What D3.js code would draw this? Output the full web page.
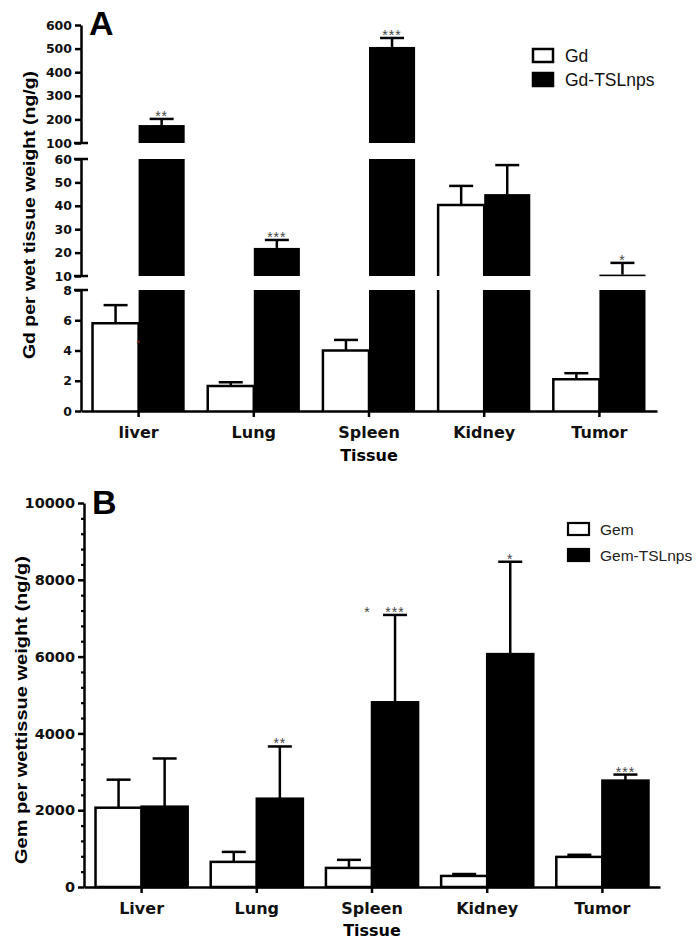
<!DOCTYPE html>
<html>
<head>
<meta charset="utf-8">
<script src="https://cdn.jsdelivr.net/npm/d3@7"></script>
<style>
  body { margin: 0; background: #fff; }
  svg { display: block; }
</style>
</head>
<body>
<svg id="chart" width="700" height="943"></svg>
<script>
// ---------- Panel A data ----------
const categoriesA = ["liver", "Lung", "Spleen", "Kidney", "Tumor"];
const gdMean      = [5.8, 1.65, 4.0, 40.3, 2.1];
const gdErr       = [1.2, 0.25, 0.7, 8.2, 0.4];
const gdTslMean   = [176, 22, 507, 45, 10.6];
const gdTslErr    = [26, 3.4, 38, 12.4, 5];
const gdTslStars  = ["**", "***", "***", "", "*"];
const seriesA     = ["Gd", "Gd-TSLnps"];
const ticksTopA   = [100, 200, 300, 400, 500, 600];
const ticksMidA   = [10, 20, 30, 40, 50, 60];
const ticksBotA   = [0, 2, 4, 6, 8];

// ---------- Panel B data ----------
const categoriesB = ["Liver", "Lung", "Spleen", "Kidney", "Tumor"];
const gemMean     = [2065, 654, 497, 288, 784];
const gemErr      = [730, 260, 210, 50, 55];
const gemTslMean  = [2092, 2300, 4810, 6065, 2771];
const gemTslErr   = [1255, 1360, 2275, 2405, 157];
const gemTslStars = ["", "**", "***", "*", "***"];
const gemGroupStars = ["", "", "*", "", ""];
const seriesB     = ["Gem", "Gem-TSLnps"];
const ticksB      = [0, 2000, 4000, 6000, 8000, 10000];

const svg = d3.select("#chart");
const AX = 2.5;
const tickFont = "'DejaVu Sans', sans-serif";
const titleFont = "'Liberation Sans', Arial, sans-serif";

// ================= PANEL A =================
const xA = d3.scaleBand().domain(categoriesA).range([81, 657]).paddingInner(0.2).paddingOuter(0.1);
const subA = d3.scaleBand().domain([0, 1]).range([0, xA.bandwidth()]);
const segsA = [
  { s: d3.scaleLinear().domain([100, 600]).range([143, 25]), ticks: ticksTopA },
  { s: d3.scaleLinear().domain([10, 60]).range([276, 159]), ticks: ticksMidA },
  { s: d3.scaleLinear().domain([0, 8]).range([411, 290]), ticks: ticksBotA }
];
function yA(v) {
  for (const g of segsA) { const d = g.s.domain(); if (v >= d[0] && v <= d[1] + 1e-9) return g.s(v); }
  if (v > 60) return segsA[0].s(100);
  return segsA[1].s(10);
}

const gA = svg.append("g");

function drawBarsA(means, errs, si) {
  means.forEach((m, i) => {
    const x0 = xA(categoriesA[i]) + subA(si);
    const w = subA.bandwidth();
    segsA.forEach(g => {
      const [lo, hi] = g.s.domain();
      if (m <= lo) return;
      const top = Math.min(m, hi);
      const yTop = g.s(top), yBot = g.s(lo);
      if (si === 1) {
        gA.append("rect").attr("x", x0).attr("y", yTop).attr("width", w)
          .attr("height", Math.max(1.6, yBot - yTop)).attr("fill", "#000");
      } else {
        gA.append("rect").attr("x", x0).attr("y", yTop).attr("width", w)
          .attr("height", yBot - yTop).attr("fill", "#fff");
        const p = d3.path();
        p.moveTo(x0, yBot); p.lineTo(x0, yTop);
        if (m <= hi) p.lineTo(x0 + w, yTop); else p.moveTo(x0 + w, yTop);
        p.lineTo(x0 + w, yBot);
        gA.append("path").attr("d", p.toString()).attr("fill", "none")
          .attr("stroke", "#000").attr("stroke-width", AX);
      }
    });
    const cx = x0 + w / 2;
    const eTop = yA(m + errs[i]);
    gA.append("line").attr("x1", cx).attr("x2", cx).attr("y1", yA(m)).attr("y2", eTop)
      .attr("stroke", "#000").attr("stroke-width", AX);
    gA.append("line").attr("x1", cx - 12).attr("x2", cx + 12).attr("y1", eTop).attr("y2", eTop)
      .attr("stroke", "#000").attr("stroke-width", AX);
  });
}
drawBarsA(gdMean, gdErr, 0);
drawBarsA(gdTslMean, gdTslErr, 1);

gdTslStars.forEach((st, i) => {
  if (!st) return;
  const cx = xA(categoriesA[i]) + subA(1) + subA.bandwidth() / 2;
  gA.append("text").attr("x", cx).attr("y", yA(gdTslMean[i] + gdTslErr[i]) + 2)
    .attr("text-anchor", "middle").attr("font-family", titleFont).attr("font-size", 14)
    .attr("letter-spacing", 1).attr("fill", "#444").text(st);
});
gA.append("text").attr("x", xA("liver") + subA.bandwidth()).attr("y", segsA[2].s(4.3))
  .attr("text-anchor", "middle").attr("font-family", titleFont).attr("font-size", 9)
  .attr("fill", "#8b2020").text("*");

segsA.forEach((g, k) => {
  const ax = gA.append("g").attr("transform", "translate(81,0)")
    .call(d3.axisLeft(g.s).tickValues(g.ticks).tickSize(6).tickSizeOuter(0).tickPadding(3));
  ax.select(".domain").attr("stroke-width", AX);
  ax.selectAll(".tick line").attr("stroke-width", AX);
  ax.selectAll(".tick text").attr("font-family", tickFont).attr("font-weight", "bold")
    .attr("font-size", 12.5).attr("fill", "#111");
  const [lo, hi] = g.s.domain();
  if (k > 0) gA.append("line").attr("x1", 74).attr("x2", 88).attr("y1", g.s(hi)).attr("y2", g.s(hi))
    .attr("stroke", "#000").attr("stroke-width", AX);
  if (k < 2) gA.append("line").attr("x1", 74).attr("x2", 88).attr("y1", g.s(lo)).attr("y2", g.s(lo))
    .attr("stroke", "#000").attr("stroke-width", AX);
});

const xAxA = gA.append("g").attr("transform", `translate(0,${segsA[2].s(0)})`)
  .call(d3.axisBottom(xA).tickSize(6).tickSizeOuter(0).tickPadding(10));
xAxA.select(".domain").attr("stroke-width", AX);
xAxA.selectAll(".tick line").attr("stroke-width", AX);
xAxA.selectAll(".tick text").attr("font-family", tickFont).attr("font-weight", "bold")
  .attr("font-size", 16).attr("fill", "#111").attr("dy", "0.71em");

gA.append("text").attr("x", 369).attr("y", 461).attr("text-anchor", "middle")
  .attr("font-family", tickFont).attr("font-weight", "bold").attr("font-size", 16).text("Tissue");
gA.append("text").attr("transform", "translate(35,215) rotate(-90)").attr("text-anchor", "middle")
  .attr("font-family", titleFont).attr("font-weight", "bold").attr("font-size", 16.5)
  .attr("textLength", 288).attr("lengthAdjust", "spacingAndGlyphs")
  .text("Gd per wet tissue weight (ng/g)");
gA.append("text").attr("x", 89).attr("y", 35).attr("font-family", titleFont)
  .attr("font-weight", "bold").attr("font-size", 34).text("A");

seriesA.forEach((s, i) => {
  const y = 49 + i * 24;
  gA.append("rect").attr("x", 533).attr("y", y).attr("width", 20).attr("height", 13)
    .attr("fill", i ? "#000" : "#fff").attr("stroke", "#000").attr("stroke-width", 2.5);
  gA.append("text").attr("x", 565).attr("y", y + 13).attr("font-family", titleFont)
    .attr("font-size", 17.5).attr("fill", "#111").text(s);
});

// ================= PANEL B =================
const xB = d3.scaleBand().domain(categoriesB).range([84, 660]).paddingInner(0.2).paddingOuter(0.1);
const subB = d3.scaleBand().domain([0, 1]).range([0, xB.bandwidth()]);
const yB = d3.scaleLinear().domain([0, 10000]).range([887, 503]);
const gB = svg.append("g");

function drawBarsB(means, errs, si) {
  means.forEach((m, i) => {
    const x0 = xB(categoriesB[i]) + subB(si);
    const w = subB.bandwidth();
    const cx = x0 + w / 2;
    const eTop = yB(m + errs[i]);
    gB.append("line").attr("x1", cx).attr("x2", cx).attr("y1", yB(m)).attr("y2", eTop)
      .attr("stroke", "#000").attr("stroke-width", AX);
    gB.append("line").attr("x1", cx - 12).attr("x2", cx + 12).attr("y1", eTop).attr("y2", eTop)
      .attr("stroke", "#000").attr("stroke-width", AX);
    gB.append("rect").attr("x", x0).attr("y", yB(m)).attr("width", w).attr("height", yB(0) - yB(m))
      .attr("fill", si ? "#000" : "#fff").attr("stroke", "#000").attr("stroke-width", AX);
  });
}
drawBarsB(gemMean, gemErr, 0);
drawBarsB(gemTslMean, gemTslErr, 1);

gemTslStars.forEach((st, i) => {
  if (!st) return;
  const cx = xB(categoriesB[i]) + subB(1) + subB.bandwidth() / 2;
  gB.append("text").attr("x", cx).attr("y", yB(gemTslMean[i] + gemTslErr[i]) + 2)
    .attr("text-anchor", "middle").attr("font-family", titleFont).attr("font-size", 14)
    .attr("letter-spacing", 1).attr("fill", "#444").text(st);
});
gemGroupStars.forEach((st, i) => {
  if (!st) return;
  const cx = xB(categoriesB[i]) + xB.bandwidth() / 2 - 5;
  gB.append("text").attr("x", cx).attr("y", yB(gemTslMean[i] + gemTslErr[i]) + 2)
    .attr("text-anchor", "middle").attr("font-family", titleFont).attr("font-size", 14)
    .attr("fill", "#444").text(st);
});

const minorB = d3.range(0, 10001, 400).filter(v => v % 2000 !== 0);
const axMinor = gB.append("g").attr("transform", "translate(84,0)")
  .call(d3.axisLeft(yB).tickValues(minorB).tickSize(3).tickSizeOuter(0).tickFormat(""));
axMinor.select(".domain").remove();
axMinor.selectAll(".tick line").attr("stroke-width", 2.2);
const axB = gB.append("g").attr("transform", "translate(84,0)")
  .call(d3.axisLeft(yB).tickValues(ticksB).tickSize(6).tickSizeOuter(0).tickPadding(3).tickFormat(d3.format("d")));
axB.select(".domain").attr("stroke-width", AX);
axB.selectAll(".tick line").attr("stroke-width", AX);
axB.selectAll(".tick text").attr("font-family", tickFont).attr("font-weight", "bold")
  .attr("font-size", 14.5).attr("fill", "#111");

const xAxB = gB.append("g").attr("transform", `translate(0,${yB(0)})`)
  .call(d3.axisBottom(xB).tickSize(6).tickSizeOuter(0).tickPadding(10));
xAxB.select(".domain").attr("stroke-width", AX);
xAxB.selectAll(".tick line").attr("stroke-width", AX);
xAxB.selectAll(".tick text").attr("font-family", tickFont).attr("font-weight", "bold")
  .attr("font-size", 16).attr("fill", "#111").attr("dy", "0.71em");

gB.append("text").attr("x", 372).attr("y", 936).attr("text-anchor", "middle")
  .attr("font-family", tickFont).attr("font-weight", "bold").attr("font-size", 16).text("Tissue");
gB.append("text").attr("transform", "translate(27,710) rotate(-90)").attr("text-anchor", "middle")
  .attr("font-family", titleFont).attr("font-weight", "bold").attr("font-size", 16.5)
  .attr("textLength", 308).attr("lengthAdjust", "spacingAndGlyphs")
  .text("Gem per wettissue weight (ng/g)");
gB.append("text").attr("x", 92).attr("y", 514).attr("font-family", titleFont)
  .attr("font-weight", "bold").attr("font-size", 34).text("B");

seriesB.forEach((s, i) => {
  const y = 523 + i * 26;
  gB.append("rect").attr("x", 568).attr("y", y).attr("width", 21).attr("height", 12)
    .attr("fill", i ? "#000" : "#fff").attr("stroke", "#000").attr("stroke-width", 2.2);
  gB.append("text").attr("x", 600).attr("y", y + 12).attr("font-family", titleFont)
    .attr("font-size", 15.5).attr("fill", "#222").text(s);
});
</script>
</body>
</html>
